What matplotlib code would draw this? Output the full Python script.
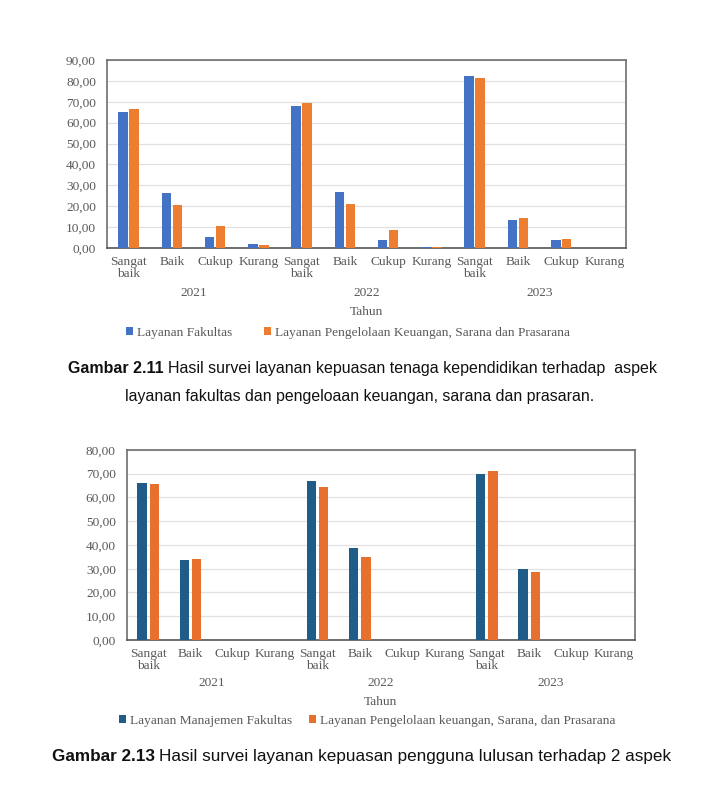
import numpy as np
import matplotlib.pyplot as plt

# category labels (same for both charts)
categories = ["Sangat\nbaik", "Baik", "Cukup", "Kurang"] * 3
years = ["2021", "2022", "2023"]

# Gambar 2.11 - tenaga kependidikan
fakultas = [65.3, 26.3, 5.3, 2.1, 68.0, 26.6, 3.8, 0.6, 82.3, 13.2, 3.8, 0.0]
keuangan = [66.4, 20.7, 10.7, 1.6, 69.3, 20.9, 8.6, 0.5, 81.2, 14.3, 4.3, 0.0]

# Gambar 2.13 - pengguna lulusan
manajemen = [66.2, 33.7, 0, 0, 67.1, 38.9, 0, 0, 70.0, 30.0, 0, 0]
keuangan2 = [65.8, 34.0, 0, 0, 64.6, 35.1, 0, 0, 71.3, 28.6, 0, 0]

series1 = ["Layanan Fakultas", "Layanan Pengelolaan Keuangan, Sarana dan Prasarana"]
series2 = ["Layanan Manajemen Fakultas", "Layanan Pengelolaan keuangan, Sarana, dan Prasarana"]

gray = "#595959"
serif = ["Liberation Serif", "DejaVu Serif"]
sans = ["Liberation Sans", "DejaVu Sans"]
fs = 9.6

fig = plt.figure(figsize=(7.11, 8.09), dpi=100)


def bar_chart(rect, a, b, colors, names, ymax, off, year_y, tahun_y, leg_x, leg_y, colsp):
    ax = fig.add_axes(rect)
    x = np.arange(len(categories))
    w = 0.22
    ax.bar(x - off, a, w, color=colors[0], label=names[0], zorder=3)
    ax.bar(x + off, b, w, color=colors[1], label=names[1], zorder=3)
    ax.set_xlim(-0.5, len(categories) - 0.5)
    ax.set_ylim(0, ymax)
    ax.set_yticks(np.arange(0, ymax + 1, 10))
    ax.set_yticklabels([f"{v:.2f}".replace(".", ",") for v in np.arange(0, ymax + 1, 10)],
                       family=serif, fontsize=fs, color=gray)
    ax.set_xticks(x)
    ax.set_xticklabels(categories, family=serif, fontsize=fs, color=gray, linespacing=1.0)
    ax.tick_params(length=0)
    ax.tick_params(axis="y", pad=8)
    ax.tick_params(axis="x", pad=6)
    ax.grid(axis="y", color="#e0e0e0", lw=0.9, zorder=0)
    for s in ax.spines.values():
        s.set_color("#6e6e6e")
        s.set_linewidth(1.2)
    ax.spines["bottom"].set_color("#555555")
    for i, yr in enumerate(years):
        ax.text(i * 4 + 1.5, year_y, yr, transform=ax.get_xaxis_transform(),
                ha="center", va="center", family=serif, fontsize=fs, color=gray)
    ax.text(0.5, tahun_y, "Tahun", transform=ax.transAxes, ha="center", va="center",
            family=serif, fontsize=fs, color=gray)
    ax.legend(loc="center", bbox_to_anchor=(leg_x, leg_y), ncol=2, frameon=False,
              prop={"family": serif, "size": fs}, labelcolor=gray,
              handlelength=0.5, handleheight=0.5, handletextpad=0.3, columnspacing=colsp)
    return ax


bar_chart([0.1505, 0.6934, 0.730, 0.2324], fakultas, keuangan,
          ["#4472C4", "#ED7D31"], series1, 90, 0.125, -0.239, -0.340, 0.464, -0.452, 2.4)
bar_chart([0.1786, 0.2089, 0.7145, 0.2349], manajemen, keuangan2,
          ["#1F5C87", "#E8702E"], series2, 80, 0.145, -0.226, -0.326, 0.473, -0.426, 1.3)

# captions with bold figure number
renderer = fig.canvas.get_renderer()


def caption(x0, y, bold, rest, size):
    t1 = fig.text(x0, y, bold, family=sans, fontsize=size, weight="bold", va="center", color="#111111")
    bb = t1.get_window_extent(renderer)
    x1 = fig.transFigure.inverted().transform((bb.x1 + 4, 0))[0]
    fig.text(x1, y, rest, family=sans, fontsize=size, va="center", color="#111111")


caption(0.0956, 0.5439, "Gambar 2.11",
        "Hasil survei layanan kepuasan tenaga kependidikan terhadap  aspek", 11.5)
fig.text(0.506, 0.5105, "layanan fakultas dan pengeloaan keuangan, sarana dan prasaran.",
         family=sans, fontsize=11.4, ha="center", va="center", color="#111111")
caption(0.0731, 0.0643, "Gambar 2.13",
        "Hasil survei layanan kepuasan pengguna lulusan terhadap 2 aspek", 12.3)

fig.savefig("out.png", dpi=100)
